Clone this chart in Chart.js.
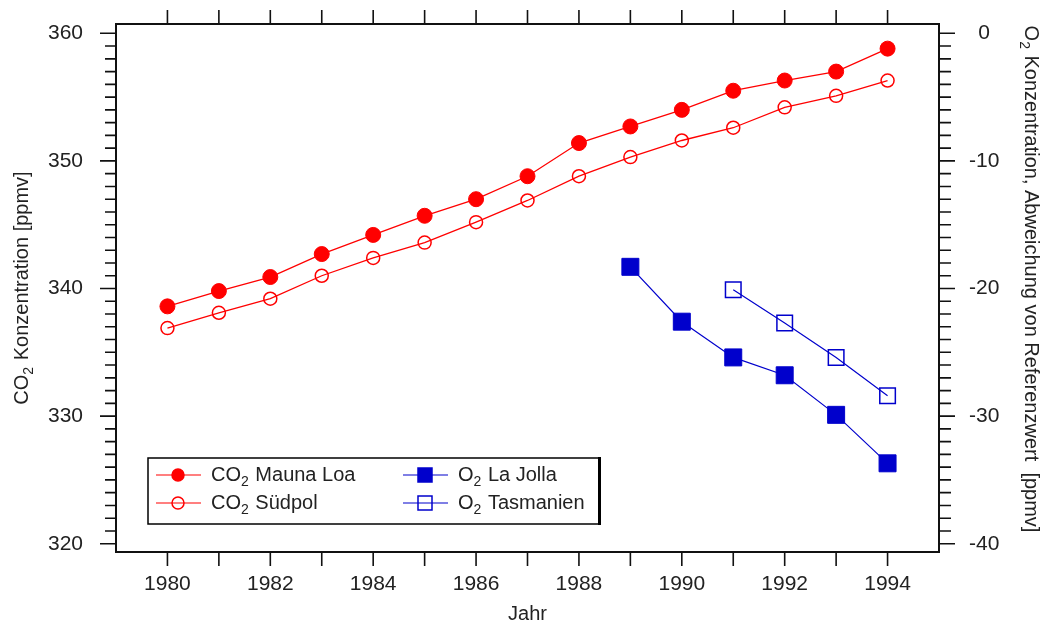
<!DOCTYPE html>
<html>
<head>
<meta charset="utf-8">
<script src="https://cdn.jsdelivr.net/npm/chart.js@4.4.0/dist/chart.umd.min.js"></script>
<style>
  body { margin: 0; background: #fff; }
  #wrap { width: 1047px; height: 624px; }
</style>
</head>
<body>
<div id="wrap"><canvas id="co2" width="1047" height="624"></canvas></div>
<script>
const years = [1980, 1981, 1982, 1983, 1984, 1985, 1986, 1987, 1988, 1989, 1990, 1991, 1992, 1993, 1994]
const co2MaunaLoa = [338.6, 339.8, 340.9, 342.7, 344.2, 345.7, 347.0, 348.8, 351.4, 352.7, 354.0, 355.5, 356.3, 357.0, 358.8]
const co2Suedpol = [336.9, 338.1, 339.2, 341.0, 342.4, 343.6, 345.2, 346.9, 348.8, 350.3, 351.6, 352.6, 354.2, 355.1, 356.3]
const laJollaYears = [1989, 1990, 1991, 1992, 1993, 1994]
const o2LaJolla = [-18.3, -22.6, -25.4, -26.8, -29.9, -33.7]
const tasmanienYears = [1991, 1992, 1993, 1994]
const o2Tasmanien = [-20.1, -22.7, -25.4, -28.4]

const xTicks = [1980, 1982, 1984, 1986, 1988, 1990, 1992, 1994]
const leftTicks = [320, 330, 340, 350, 360]
const rightTicks = [-40, -30, -20, -10, 0]

const RED = '#ff0000'
const BLUE = '#0000cc'
const FONT = '"Liberation Sans", Arial, sans-serif'

const pts = (xs, ys) => xs.map((x, i) => ({x: x, y: ys[i]}))

// text with a lowered small "2" for the chemical formulas
function richText(ctx, text, x, y, size, align, rot) {
  const parts = text.split('₂')
  const sub = Math.round(size * 0.68)
  let w = 0
  parts.forEach((p, i) => {
    ctx.font = `${size}px ${FONT}`
    w += ctx.measureText(p).width
    if (i < parts.length - 1) {
      ctx.font = `${sub}px ${FONT}`
      w += ctx.measureText('2').width + 1
    }
  })
  ctx.save()
  ctx.translate(x, y)
  ctx.rotate(rot || 0)
  ctx.textBaseline = 'middle'
  ctx.textAlign = 'left'
  let cx = align === 'center' ? -w / 2 : 0
  parts.forEach((p, i) => {
    ctx.font = `${size}px ${FONT}`
    ctx.fillText(p, cx, 0)
    cx += ctx.measureText(p).width
    if (i < parts.length - 1) {
      ctx.font = `${sub}px ${FONT}`
      ctx.fillText('2', cx, size * 0.38)
      cx += ctx.measureText('2').width + 1
    }
  })
  ctx.restore()
}

function marker(ctx, ds, x, y, r) {
  ctx.save()
  ctx.strokeStyle = ds.borderColor
  ctx.fillStyle = ds.pointBackgroundColor
  ctx.lineWidth = 1.5
  ctx.beginPath()
  if (ds.pointStyle === 'rect') ctx.rect(x - r, y - r, 2 * r, 2 * r)
  else ctx.arc(x, y, r, 0, Math.PI * 2)
  ctx.fill()
  ctx.stroke()
  ctx.restore()
}

const noPad = s => { s.paddingTop = 0; s.paddingBottom = 0; s.paddingLeft = 0; s.paddingRight = 0 }

const axesAndLegend = {
  id: 'axesAndLegend',
  afterDraw(chart) {
    const {ctx, chartArea: a, scales} = chart
    ctx.save()
    ctx.strokeStyle = '#111'
    ctx.lineWidth = 2
    ctx.strokeRect(a.left, a.top, a.right - a.left, a.bottom - a.top)

    ctx.lineWidth = 1.6
    ctx.beginPath()
    for (let v = leftTicks[0]; v <= leftTicks[leftTicks.length - 1]; v++) {
      const y = scales.y.getPixelForValue(v)
      const len = v % 10 === 0 ? 16 : 11
      ctx.moveTo(a.left - len, y)
      ctx.lineTo(a.left, y)
    }
    for (let v = rightTicks[0]; v <= rightTicks[rightTicks.length - 1]; v++) {
      const y = scales.y2.getPixelForValue(v)
      const len = v % 10 === 0 ? 16 : 12
      ctx.moveTo(a.right, y)
      ctx.lineTo(a.right + len, y)
    }
    years.forEach(yr => {
      const x = scales.x.getPixelForValue(yr)
      ctx.moveTo(x, a.bottom)
      ctx.lineTo(x, a.bottom + 14)
      ctx.moveTo(x, a.top)
      ctx.lineTo(x, a.top - 14)
    })
    ctx.stroke()

    // axis titles
    ctx.fillStyle = '#222'
    richText(ctx, 'CO₂ Konzentration [ppmv]', 22, (a.top + a.bottom) / 2, 20, 'center', -Math.PI / 2)
    richText(ctx, 'O₂ Konzentration, Abweichung von Referenzwert  [ppmv]', 1031, 279, 20, 'center', Math.PI / 2)
    richText(ctx, 'Jahr', (a.left + a.right) / 2, 614, 20, 'center', 0)

    // legend box
    ctx.lineWidth = 1.5
    ctx.strokeStyle = '#000'
    ctx.strokeRect(148, 458, 451, 66)
    ctx.lineWidth = 3
    ctx.beginPath()
    ctx.moveTo(599.5, 457)
    ctx.lineTo(599.5, 525)
    ctx.stroke()

    const sets = chart.data.datasets
    const slots = [[156, 475], [156, 503], [403, 475], [403, 503]]
    sets.forEach((ds, i) => {
      const [lx, ly] = slots[i]
      ctx.strokeStyle = ds.borderColor
      ctx.lineWidth = 1.2
      ctx.beginPath()
      ctx.moveTo(lx, ly)
      ctx.lineTo(lx + 45, ly)
      ctx.stroke()
      marker(ctx, ds, lx + 22, ly, ds.pointStyle === 'rect' ? 7 : 6)
      ctx.fillStyle = '#222'
      richText(ctx, ds.label, lx + 55, ly, 20, 'left', 0)
    })
    ctx.restore()
  }
}

new Chart(document.getElementById('co2').getContext('2d'), {
  type: 'line',
  data: {
    datasets: [
      {
        label: 'CO₂ Mauna Loa',
        data: pts(years, co2MaunaLoa),
        yAxisID: 'y',
        borderColor: RED,
        borderWidth: 1.3,
        pointStyle: 'circle',
        pointRadius: 7.5,
        pointBackgroundColor: RED,
        pointBorderColor: RED,
        pointBorderWidth: 1
      },
      {
        label: 'CO₂ Südpol',
        data: pts(years, co2Suedpol),
        yAxisID: 'y',
        borderColor: RED,
        borderWidth: 1.3,
        pointStyle: 'circle',
        pointRadius: 6.5,
        pointBackgroundColor: 'rgba(0,0,0,0)',
        pointBorderColor: RED,
        pointBorderWidth: 1.5
      },
      {
        label: 'O₂ La Jolla',
        data: pts(laJollaYears, o2LaJolla),
        yAxisID: 'y2',
        borderColor: BLUE,
        borderWidth: 1.2,
        pointStyle: 'rect',
        pointRadius: 12,
        pointBackgroundColor: BLUE,
        pointBorderColor: BLUE,
        pointBorderWidth: 1
      },
      {
        label: 'O₂ Tasmanien',
        data: pts(tasmanienYears, o2Tasmanien),
        yAxisID: 'y2',
        borderColor: BLUE,
        borderWidth: 1.2,
        pointStyle: 'rect',
        pointRadius: 11,
        pointBackgroundColor: 'rgba(0,0,0,0)',
        pointBorderColor: BLUE,
        pointBorderWidth: 1.5
      }
    ]
  },
  options: {
    responsive: false,
    animation: false,
    events: [],
    layout: { padding: { top: 24, left: 0, right: 0, bottom: 0 } },
    plugins: {
      legend: { display: false },
      tooltip: { enabled: false }
    },
    scales: {
      x: {
        type: 'linear',
        min: 1979,
        max: 1995,
        afterBuildTicks: s => { s.ticks = xTicks.map(v => ({value: v})) },
        afterFit: s => { s.height = 72; noPad(s) },
        grid: { display: false },
        border: { display: false },
        ticks: { padding: 12, color: '#222', font: { family: FONT, size: 21 }, callback: v => String(v), maxRotation: 0, autoSkip: false }
      },
      y: {
        position: 'left',
        min: 319.35,
        max: 360.73,
        afterBuildTicks: s => { s.ticks = leftTicks.map(v => ({value: v})) },
        afterFit: s => { s.width = 116; noPad(s) },
        grid: { display: false },
        border: { display: false },
        ticks: { padding: 25, color: '#222', font: { family: FONT, size: 21 }, callback: v => String(v) }
      },
      y2: {
        position: 'right',
        min: -40.65,
        max: 0.73,
        afterBuildTicks: s => { s.ticks = rightTicks.map(v => ({value: v})) },
        afterFit: s => { s.width = 108; noPad(s) },
        grid: { display: false },
        border: { display: false },
        ticks: { padding: 22, crossAlign: 'center', color: '#222', font: { family: FONT, size: 21 }, callback: v => String(v) }
      }
    }
  },
  plugins: [axesAndLegend]
})
</script>
</body>
</html>
